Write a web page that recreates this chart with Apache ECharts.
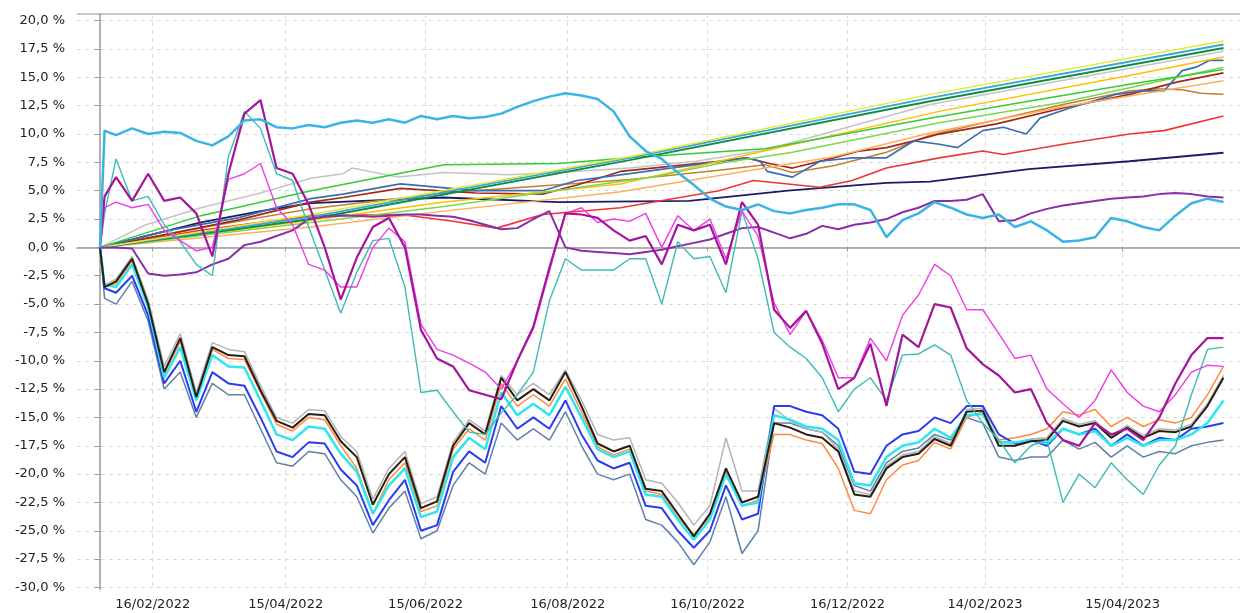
<!DOCTYPE html>
<html><head><meta charset="utf-8">
<script src="https://cdn.jsdelivr.net/npm/echarts@6/dist/echarts.min.js"></script>
<style>html,body{margin:0;padding:0;background:#fff}#c{width:1240px;height:613px}</style>
</head><body><div id="c"></div>
<script>
// ---- axis labels ----
const START = Date.UTC(2022, 0, 24); // first observation
const xTickLabels = ['16/02/2022','15/04/2022','15/06/2022','16/08/2022','16/10/2022','16/12/2022','14/02/2023','15/04/2023'];
const yTicks = [-30,-27.5,-25,-22.5,-20,-17.5,-15,-12.5,-10,-7.5,-5,-2.5,0,2.5,5,7.5,10,12.5,15,17.5,20];

// ---- sample days (days since START) for the volatile series ----
const sampleDays = [0,2,7,14,21,28,35,42,49,56,63,70,77,84,91,98,105,112,119,126,133,140,147,154,161,168,175,182,189,196,203,210,217,224,231,238,245,252,259,266,273,280,287,294,301,308,315,322,329,336,343,350,357,364,371,378,385,392,399,406,413,420,427,434,441,448,455,462,469,476,483,490];

// ---- volatile series (%), one value per sample day ----
const skyBlue = [0,10.3,9.9,10.5,10.0,10.2,10.1,9.4,9.0,9.8,11.2,11.3,10.6,10.5,10.8,10.6,11.0,11.2,11.0,11.3,11.0,11.6,11.3,11.6,11.4,11.5,11.8,12.4,12.9,13.3,13.6,13.4,13.1,12.0,9.8,8.5,7.8,6.6,5.5,4.3,3.6,3.3,3.8,3.2,3.0,3.3,3.5,3.8,3.8,3.3,0.9,2.4,3.0,4.0,3.5,2.9,2.6,2.9,1.8,2.3,1.5,0.5,0.6,0.9,2.6,2.3,1.8,1.5,2.8,3.9,4.3,4.0];
const violet = [0,0,0,-0.1,-2.3,-2.5,-2.4,-2.2,-1.5,-1.0,0.2,0.5,1.0,1.5,2.5,2.7,2.8,2.8,2.7,2.8,2.9,2.9,2.8,2.7,2.4,2.0,1.6,1.7,2.5,3.2,0.0,-0.3,-0.4,-0.5,-0.6,-0.4,-0.2,0.1,0.4,0.7,1.2,1.7,1.8,1.3,0.8,1.2,1.9,1.6,2.0,2.2,2.5,3.1,3.5,4.1,4.1,4.2,4.7,2.3,2.4,3.0,3.4,3.7,3.9,4.1,4.3,4.4,4.5,4.7,4.8,4.7,4.5,4.4];
const darkMagenta = [0,4.5,6.2,4.1,6.5,4.1,4.4,3.0,-0.8,6.5,11.8,13.0,7.0,6.5,3.8,0.0,-4.6,-0.9,1.8,2.6,0.0,-7.3,-9.8,-10.5,-12.6,-13.0,-13.4,-10.0,-7.0,-1.8,3.0,2.9,2.6,1.5,0.6,1.0,-1.5,2.0,1.5,2.0,-1.5,4.0,2.0,-5.5,-7.1,-5.6,-8.5,-12.5,-11.5,-8.5,-14.0,-7.7,-8.8,-5.0,-5.3,-8.9,-10.3,-11.3,-12.8,-12.5,-15.5,-17.0,-17.5,-15.5,-16.5,-16.0,-17.0,-15.0,-12.0,-9.5,-8.0,-8.0];
const magenta = [0,3.5,4.0,3.5,3.8,1.5,0.6,-0.3,0.0,6.0,6.5,7.4,3.5,2.0,-1.5,-2.0,-3.5,-3.5,0.0,1.7,0.5,-6.8,-9.0,-9.5,-10.2,-11.0,-12.5,-10.0,-7.2,-2.1,3.0,3.5,2.2,2.5,2.3,3.0,0.0,2.8,1.5,2.5,-1.0,3.2,1.0,-4.9,-7.7,-5.6,-8.2,-11.5,-11.5,-8.0,-10.0,-6.0,-4.2,-1.5,-2.5,-5.5,-5.5,-7.6,-9.8,-9.5,-12.5,-13.8,-15.0,-13.5,-10.8,-12.8,-14.0,-14.5,-13.0,-11.0,-10.4,-10.5];
const teal = [0,3.0,7.8,4.1,4.5,2.0,0.5,-1.5,-2.5,8.0,12.0,10.5,6.5,5.9,1.8,-2.0,-5.8,-2.2,0.6,0.8,-3.5,-12.8,-12.6,-14.5,-16.3,-16.5,-14.6,-13.0,-11.0,-4.7,-1.0,-2.0,-2.0,-2.0,-1.0,-1.0,-5.0,0.5,-1.0,-0.8,-4.0,3.2,-1.0,-7.5,-8.8,-9.8,-11.5,-14.5,-12.5,-11.5,-13.5,-9.5,-9.4,-8.6,-9.5,-13.5,-15.5,-17.0,-19.0,-17.5,-17.0,-22.5,-20.0,-21.2,-19.0,-20.5,-21.8,-19.2,-17.5,-13.0,-9.0,-8.8];
const blackLine = [0,-3.5,-3.0,-1.0,-5.0,-11.0,-8.0,-13.2,-8.8,-9.5,-9.6,-12.6,-15.3,-15.9,-14.7,-14.8,-17.1,-18.5,-22.7,-20.0,-18.5,-23.0,-22.4,-17.5,-15.5,-16.5,-11.5,-13.5,-12.5,-13.5,-11.0,-14.0,-17.3,-18.0,-17.5,-21.3,-21.5,-23.5,-25.5,-23.5,-19.5,-22.5,-22.0,-15.5,-15.9,-16.5,-16.8,-18.0,-21.8,-22.0,-19.5,-18.5,-18.2,-16.9,-17.5,-14.5,-14.4,-17.5,-17.5,-17.1,-17.0,-15.3,-15.8,-15.5,-16.8,-15.9,-16.8,-16.2,-16.3,-15.8,-14.0,-11.5];
const grayLine = [0,-3.3,-2.8,-0.8,-4.6,-10.5,-7.6,-12.8,-8.4,-9.0,-9.2,-12.2,-15.0,-15.5,-14.3,-14.4,-16.7,-18.0,-22.2,-19.5,-18.0,-22.6,-22.0,-17.2,-15.2,-16.2,-11.3,-13.0,-12.0,-13.0,-10.8,-13.5,-16.5,-17.0,-16.8,-20.5,-20.8,-22.5,-24.5,-22.8,-16.8,-21.5,-21.5,-14.2,-15.3,-16.0,-16.3,-17.8,-21.5,-21.8,-19.3,-18.3,-18.0,-16.7,-17.3,-14.3,-14.2,-17.2,-17.3,-16.9,-16.8,-15.1,-15.6,-15.3,-16.6,-15.7,-16.6,-16.0,-16.1,-15.6,-13.8,-11.3];
const aquaLine = [0,-3.3,-3.5,-1.5,-5.3,-11.5,-8.8,-13.5,-9.5,-10.5,-10.6,-13.5,-16.5,-17.0,-15.8,-16.0,-18.2,-19.8,-23.5,-21.0,-19.5,-23.8,-23.3,-18.5,-16.8,-17.8,-12.8,-14.8,-13.8,-14.8,-12.3,-15.0,-17.8,-18.5,-18.0,-21.8,-22.0,-24.0,-25.8,-24.0,-20.0,-22.8,-22.5,-14.8,-15.2,-15.8,-16.0,-17.0,-20.8,-21.0,-18.5,-17.5,-17.2,-16.0,-16.8,-14.8,-14.7,-17.2,-17.2,-17.0,-17.3,-16.0,-16.5,-16.2,-17.5,-16.8,-17.5,-17.0,-17.0,-16.5,-15.5,-13.5];
const blueLine = [0,-3.6,-4.0,-2.5,-6.0,-12.0,-10.0,-14.5,-11.0,-12.0,-12.2,-15.0,-18.0,-18.5,-17.2,-17.3,-19.6,-21.0,-24.5,-22.3,-20.5,-25.0,-24.5,-19.8,-18.0,-19.0,-14.0,-16.0,-15.0,-16.0,-13.5,-16.5,-18.8,-19.5,-19.0,-22.8,-23.0,-25.0,-26.5,-25.0,-21.0,-24.0,-23.5,-14.0,-14.0,-14.5,-14.8,-16.0,-19.8,-20.0,-17.5,-16.5,-16.2,-15.0,-15.5,-14.0,-14.0,-16.5,-17.3,-17.0,-17.5,-16.0,-16.5,-16.0,-17.5,-16.5,-17.5,-16.8,-17.0,-16.0,-15.8,-15.5];
const steelLine = [0,-4.5,-5.0,-3.0,-6.5,-12.5,-11.0,-15.0,-12.0,-13.0,-13.0,-16.0,-19.0,-19.3,-18.0,-18.2,-20.5,-22.0,-25.2,-23.0,-21.5,-25.7,-25.0,-21.0,-19.0,-20.0,-15.5,-17.0,-16.0,-17.0,-14.5,-17.5,-20.0,-20.5,-20.0,-24.0,-24.5,-26.0,-28.0,-26.0,-22.0,-27.0,-25.0,-15.5,-15.5,-16.0,-16.3,-17.5,-21.0,-21.5,-19.0,-18.0,-17.7,-16.5,-17.0,-15.0,-15.5,-18.5,-18.8,-18.5,-18.5,-17.0,-17.8,-17.2,-18.5,-17.5,-18.5,-18.0,-18.2,-17.5,-17.2,-17.0];
const orangeLine = [0,-3.4,-3.2,-1.2,-5.2,-11.2,-8.3,-13.4,-9.0,-9.8,-9.9,-12.8,-15.6,-16.2,-15.0,-15.2,-17.5,-19.5,-23.5,-20.5,-19.0,-23.3,-22.8,-17.8,-16.0,-17.0,-12.0,-14.0,-13.0,-14.0,-11.6,-14.5,-17.6,-18.3,-17.8,-21.5,-21.8,-23.8,-25.3,-23.8,-19.8,-22.8,-22.3,-16.5,-16.5,-17.0,-17.3,-19.5,-23.2,-23.5,-20.5,-19.2,-18.8,-17.2,-17.8,-15.0,-14.5,-17.0,-16.8,-16.5,-16.0,-14.5,-14.8,-14.3,-15.8,-15.0,-15.8,-15.2,-15.5,-15.0,-13.0,-10.5];

// ---- smoother series: [day, %] points ----
const yellowPts = [[0,0],[92,2.9],[231,8.0],[362,13.5],[490,18.2]];
const lightTealPts = [[0,0],[92,2.7],[231,7.9],[362,13.2],[490,17.9]];
const darkGreenPts = [[0,0],[92,2.5],[231,7.7],[362,12.9],[490,17.6]];
const greenPts = [[0,0],[44,2.8],[92,5.0],[150,7.3],[200,7.4],[231,7.9],[290,8.7],[362,11.4],[405,12.9],[449,14.4],[490,15.7]];
const lightGreenPts = [[0,0],[92,2.2],[150,3.6],[241,6.2],[270,7.4],[302,8.4],[366,11.0],[420,12.8],[490,15.9]];
const goldPts = [[0,0],[92,2.4],[150,4.0],[227,5.6],[270,7.6],[366,12.0],[450,15.2],[490,16.8]];
const lightOrangePts = [[0,0],[92,1.8],[150,3.2],[227,4.9],[320,8.0],[362,10.1],[420,12.4],[490,14.7]];
const silverPts = [[0,0],[20,2.0],[44,3.5],[70,4.8],[92,6.1],[106,6.5],[110,7.0],[130,6.2],[150,6.6],[178,6.4],[200,6.6],[231,7.0],[260,7.6],[290,8.6],[362,12.6],[490,17.3]];
const steelBluePts = [[0,0],[30,1.5],[60,2.6],[92,4.3],[106,4.7],[131,5.6],[164,5.0],[193,5.0],[208,5.9],[231,6.5],[260,7.3],[282,7.9],[288,7.6],[291,6.7],[302,6.2],[314,7.6],[328,7.9],[343,7.9],[355,9.4],[366,9.1],[374,8.8],[385,10.3],[394,10.6],[404,10.0],[410,11.4],[423,12.3],[443,13.5],[455,13.8],[464,13.8],[472,15.6],[478,15.9],[484,16.5],[490,16.5]];
const maroonPts = [[0,0],[30,1.2],[60,2.4],[92,4.0],[106,4.4],[131,5.2],[164,4.8],[193,4.7],[208,5.5],[227,6.7],[241,7.0],[270,7.6],[282,7.9],[292,7.4],[302,7.0],[320,7.9],[331,8.5],[343,8.8],[355,9.4],[366,10.0],[391,10.9],[420,12.3],[449,13.5],[470,14.6],[490,15.4]];
const brownPts = [[0,0],[46,1.8],[92,3.4],[150,4.8],[231,6.0],[270,6.8],[290,7.3],[302,6.6],[320,7.2],[343,8.4],[362,9.9],[420,12.6],[449,13.8],[460,14.0],[472,13.9],[480,13.6],[490,13.5]];
const redPts = [[0,0],[44,1.5],[92,2.8],[131,2.9],[154,2.3],[173,1.7],[193,2.9],[227,3.5],[270,5.0],[285,5.9],[314,5.3],[328,5.9],[343,7.0],[366,7.9],[385,8.5],[394,8.2],[420,9.1],[449,10.0],[464,10.3],[490,11.6]];
const navyPts = [[0,0],[44,2.2],[70,3.2],[92,3.9],[150,4.4],[200,4.0],[257,4.1],[300,5.0],[343,5.7],[362,5.8],[405,6.9],[449,7.6],[490,8.35]];

// ---- build ----
function dayOf(s){ const p = s.split('/').map(Number); return (Date.UTC(p[2], p[1]-1, p[0]) - START) / 86400000; }
const xTickDays = xTickLabels.map(dayOf);
const weekly = arr => sampleDays.map((d, i) => [d, arr[i]]);
function line(name, data, color, width){
  return { name, type:'line', data, symbol:'none', silent:true, animation:false,
           lineStyle:{ color, width }, itemStyle:{ color }, z:2 };
}
const FONT = 'DejaVu Sans';
const series = [
  line('steel', weekly(steelLine), '#5f80aa', 1.5),
  line('orange', weekly(orangeLine), '#ff8a3d', 1.5),
  line('gray', weekly(grayLine), '#b4b4b4', 1.5),
  line('blue', weekly(blueLine), '#2a3cf0', 2),
  line('aqua', weekly(aquaLine), '#2ee6f0', 2.5),
  line('black', weekly(blackLine), '#2a1c12', 2),
  line('navy', navyPts, '#1c1c66', 1.8),
  line('red', redPts, '#f03434', 1.6),
  line('brown', brownPts, '#c08030', 1.5),
  line('maroon', maroonPts, '#a02818', 1.7),
  line('steelBlue', steelBluePts, '#3d6db0', 1.7),
  line('silver', silverPts, '#c4c4c4', 1.5),
  line('lightOrange', lightOrangePts, '#ffae5a', 1.5),
  line('gold', goldPts, '#ffbf00', 1.5),
  line('lightGreen', lightGreenPts, '#7ad850', 1.5),
  line('green', greenPts, '#33cc33', 1.5),
  line('darkGreen', darkGreenPts, '#138a4a', 2),
  line('lightTeal', lightTealPts, '#35a8d5', 1.8),
  line('yellow', yellowPts, '#e8e830', 1.5),
  line('violet', weekly(violet), '#8a2daa', 2),
  line('teal', weekly(teal), '#3cbcb4', 1.4),
  line('magenta', weekly(magenta), '#f03ce8', 1.4),
  line('darkMagenta', weekly(darkMagenta), '#a3159a', 2.2),
  line('skyBlue', weekly(skyBlue), '#3bb4e4', 2.5)
];

const chart = echarts.init(document.getElementById('c'), null, { renderer:'canvas' });
chart.setOption({
  animation:false,
  backgroundColor:'#ffffff',
  grid:{ left:77, right:0, top:14, bottom:23.5, containLabel:false },
  xAxis:{
    type:'value', min:-10.03, max:497.2,
    axisLine:{ show:true, lineStyle:{ color:'#999999', width:1.5 } },
    axisTick:{ show:true, customValues:xTickDays, length:4, lineStyle:{ color:'#999999' } },
    axisLabel:{ customValues:xTickDays, margin:9, color:'#222', fontFamily:FONT, fontSize:13,
      formatter: v => { const i = xTickDays.findIndex(d => Math.abs(d - v) < 0.5); return i >= 0 ? xTickLabels[i] : ''; } },
    splitLine:{ show:true, lineStyle:{ color:'#d9d9d9', type:[4,4], width:1 } }
  },
  yAxis:{
    type:'value', min:-30.18, max:20.59,
    axisLine:{ show:true, lineStyle:{ color:'#999999', width:1.5 } },
    axisTick:{ show:true, customValues:yTicks, length:5, lineStyle:{ color:'#999999' } },
    axisLabel:{ customValues:yTicks, margin:12, color:'#222', fontFamily:FONT, fontSize:13,
      formatter: v => v.toFixed(1).replace('.', ',') + ' %' },
    splitLine:{ show:true, lineStyle:{ color:'#d9d9d9', type:[4,4], width:1 } }
  },
  graphic:[{ type:'line', shape:{ x1:77, y1:14, x2:1240, y2:14 }, style:{ stroke:'#c8c8c8', lineWidth:2 }, silent:true }],
  series
});
</script>
</body></html>
